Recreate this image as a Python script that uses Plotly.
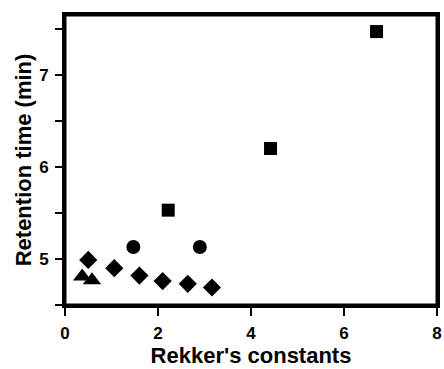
import plotly.graph_objects as go

square_x = [2.22, 4.42, 6.70]
square_y = [5.53, 6.20, 7.47]
circle_x = [1.47, 2.90]
circle_y = [5.13, 5.13]
diamond_x = [0.50, 1.06, 1.60, 2.10, 2.64, 3.16]
diamond_y = [4.99, 4.90, 4.82, 4.76, 4.73, 4.69]
triangle_x = [0.37, 0.58]
triangle_y = [4.81, 4.77]

x_ticks = [0, 2, 4, 6, 8]
x_labels = ["0", "2", "4", "6", "8"]
y_ticks = [4.5, 5, 5.5, 6, 6.5, 7, 7.5]
y_labels = ["", "5", "", "6", "", "7", ""]

fig = go.Figure()
for xs, ys, sym, sz in [
    (square_x, square_y, "square", 13),
    (circle_x, circle_y, "circle", 14),
    (diamond_x, diamond_y, "diamond", 14),
    (triangle_x, triangle_y, "triangle-up", 16),
]:
    fig.add_trace(go.Scatter(x=xs, y=ys, mode="markers",
                             marker=dict(symbol=sym, size=sz, color="black", line=dict(width=0)),
                             showlegend=False, cliponaxis=False))

fig.update_layout(
    width=444, height=369,
    margin=dict(l=65, r=7, t=15, b=64, autoexpand=False),
    plot_bgcolor="white", paper_bgcolor="white",
    font=dict(family="Liberation Sans, Arial, sans-serif", color="black"),
    shapes=[dict(type="rect", xref="paper", yref="paper", x0=0, y0=0, x1=1, y1=1,
                 line=dict(color="black", width=3), layer="above")],
)
axis_common = dict(showgrid=False, zeroline=False, automargin=False,
                   showline=True, linewidth=3, linecolor="black", mirror=True,
                   ticks="outside", tickwidth=2, tickcolor="black",
                   tickfont=dict(size=17, color="black"))
fig.update_xaxes(range=[0, 8], tickvals=x_ticks, ticktext=["<b>%s</b>" % t for t in x_labels],
                 ticklen=8, ticklabelstandoff=3,
                 title=dict(text="<b>Rekker's constants</b>", font=dict(size=22, color="black"), standoff=6),
                 **axis_common)
fig.update_yaxes(range=[4.5, 7.65], tickvals=y_ticks, ticktext=["<b>%s</b>" % t if t else "" for t in y_labels],
                 ticklen=7, ticklabelstandoff=3,
                 title=dict(text="<b>Retention time (min)</b>", font=dict(size=22, color="black"), standoff=2),
                 **axis_common)
fig.write_html("out.html", config={"displayModeBar": False},
               post_script="document.body.style.margin='0';document.body.style.padding='0';")
